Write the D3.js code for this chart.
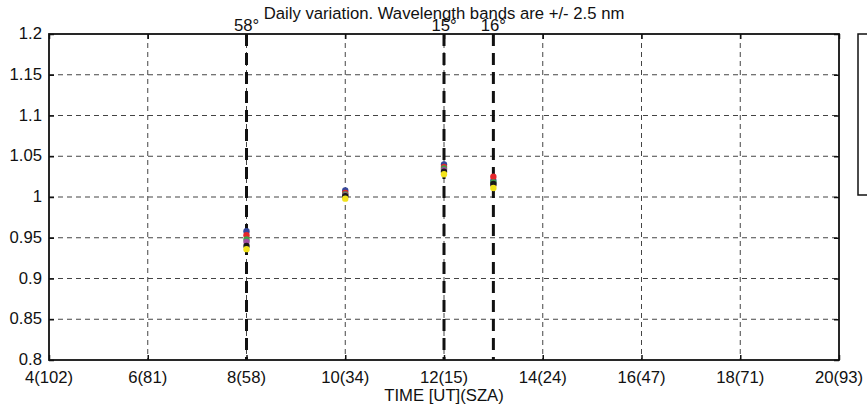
<!DOCTYPE html>
<html><head><meta charset="utf-8">
<script src="https://cdn.jsdelivr.net/npm/d3@7"></script>
<style>body{margin:0;background:#fff}svg{display:block}text{font-family:"Liberation Sans",Arial,sans-serif;fill:#111}</style>
</head><body>
<svg id="c" width="867" height="412"></svg>
<script>
const times = [8, 10, 12, 13];
const seriesNames = ["blue","red","green","magenta","black","yellow"];
const seriesColors = ["#34479c","#e5262b","#3fa34a","#a04ea0","#1a1a1a","#f2e31b"];
const blueVals    = [0.958, 1.008, 1.040, 1.020];
const redVals     = [0.953, 1.005, 1.037, 1.025];
const greenVals   = [0.948, 1.003, 1.035, 1.018];
const magentaVals = [0.945, 1.002, 1.033, 1.015];
const blackVals   = [0.940, 1.001, 1.031, 1.016];
const yellowVals  = [0.936, 0.998, 1.028, 1.011];
const xTicks = [4,6,8,10,12,14,16,18,20];
const xTickLabels = ["4(102)","6(81)","8(58)","10(34)","12(15)","14(24)","16(47)","18(71)","20(93)"];
const yTicks = [0.8,0.85,0.9,0.95,1,1.05,1.1,1.15,1.2];
const markerTimes = [8, 12, 13];
const markerLabels = ["58°","15°","16°"];
const title = "Daily variation. Wavelength bands are +/- 2.5 nm";
const xLabel = "TIME [UT](SZA)";

const allVals = [blueVals, redVals, greenVals, magentaVals, blackVals, yellowVals];
const L=49, R=839, T=34, B=360;
const svg = d3.select("#c");
const x = d3.scaleLinear().domain([4,20]).range([L,R]);
const y = d3.scaleLinear().domain([0.8,1.2]).range([B,T]);

// grid
const g = svg.append("g");
g.selectAll(".vg").data(xTicks.slice(1,-1)).enter().append("line")
  .attr("x1",d=>x(d)).attr("x2",d=>x(d)).attr("y1",T).attr("y2",B)
  .attr("stroke","#444").attr("stroke-width",1).attr("stroke-dasharray","5,4");
g.selectAll(".hg").data(yTicks.slice(1,-1)).enter().append("line")
  .attr("y1",d=>y(d)).attr("y2",d=>y(d)).attr("x1",L).attr("x2",R)
  .attr("stroke","#444").attr("stroke-width",1).attr("stroke-dasharray","5,4");

// thick marker lines
g.selectAll(".ml").data(markerTimes).enter().append("line")
  .attr("x1",d=>x(d)).attr("x2",d=>x(d)).attr("y1",T).attr("y2",B)
  .attr("stroke","#111").attr("stroke-width",3).attr("stroke-dasharray","12,7");

// axes (inner ticks)
const fs = 16.7;
svg.append("g").attr("transform",`translate(0,${B})`)
  .call(d3.axisTop(x).tickValues(xTicks).tickSize(5).tickFormat(""))
  .call(a=>a.select(".domain").remove());
svg.append("g").attr("transform",`translate(0,${T})`)
  .call(d3.axisBottom(x).tickValues(xTicks).tickSize(5).tickFormat(""))
  .call(a=>a.select(".domain").remove());
svg.append("g").attr("transform",`translate(${L},0)`)
  .call(d3.axisRight(y).tickValues(yTicks).tickSize(5).tickFormat(""))
  .call(a=>a.select(".domain").remove());
svg.append("g").attr("transform",`translate(${R},0)`)
  .call(d3.axisLeft(y).tickValues(yTicks).tickSize(5).tickFormat(""))
  .call(a=>a.select(".domain").remove());
svg.selectAll(".tick line").attr("stroke","#111").attr("stroke-width",1.5);

svg.append("rect").attr("x",L).attr("y",T).attr("width",R-L).attr("height",B-T)
  .attr("fill","none").attr("stroke","#111").attr("stroke-width",1.8);

// tick labels
svg.append("g").selectAll("text").data(xTicks).enter().append("text")
  .attr("x",d=>x(d)).attr("y",B+23).attr("text-anchor","middle").attr("font-size",fs)
  .text((d,i)=>xTickLabels[i]);
svg.append("g").selectAll("text").data(yTicks).enter().append("text")
  .attr("x",L-7).attr("y",d=>y(d)).attr("dy","0.3em").attr("text-anchor","end").attr("font-size",fs)
  .text(d=>d3.format("")(+d.toFixed(2)));

svg.append("text").attr("x",(L+R)/2).attr("y",B+41).attr("text-anchor","middle").attr("font-size",fs).text(xLabel);
svg.append("text").attr("x",(L+R)/2).attr("y",19).attr("text-anchor","middle").attr("font-size",fs).text(title);
svg.append("g").selectAll("text").data(markerTimes).enter().append("text")
  .attr("x",d=>x(d)).attr("y",T-3).attr("text-anchor","middle").attr("font-size",fs)
  .text((d,i)=>markerLabels[i]);

// points
allVals.forEach((vals,si)=>{
  svg.append("g").selectAll("circle").data(vals).enter().append("circle")
    .attr("cx",(d,i)=>x(times[i])).attr("cy",d=>y(d)).attr("r",3.2)
    .attr("fill",seriesColors[si]);
});

// legend box (cut off)
svg.append("rect").attr("x",858).attr("y",T).attr("width",60).attr("height",161)
  .attr("fill","#fff").attr("stroke","#111").attr("stroke-width",1.5);
</script>
</body></html>
